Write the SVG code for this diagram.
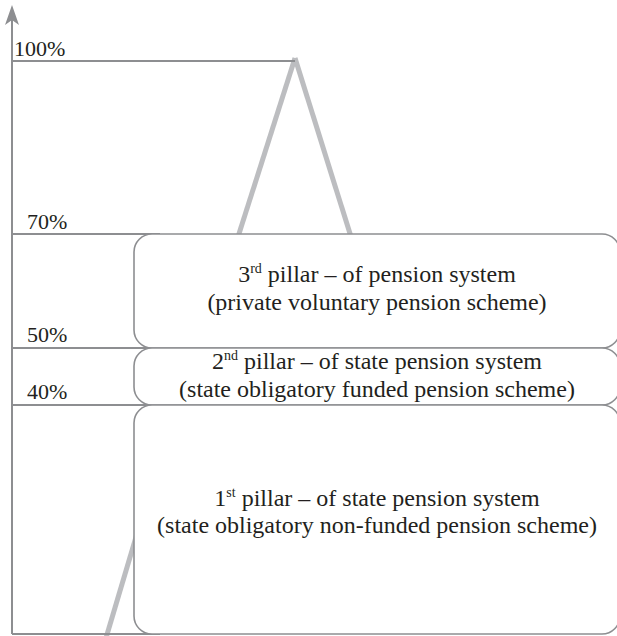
<svg xmlns="http://www.w3.org/2000/svg" width="617" height="636" viewBox="0 0 617 636">
<style>
.ax{stroke:#8d8e91;stroke-width:2;fill:none}
.tri{stroke:#bcbdc0;stroke-width:5;fill:none}
.box{fill:#ffffff;stroke:#8d8e91;stroke-width:1.6}
text{font-family:"Liberation Serif","Times New Roman","DejaVu Serif",serif;fill:#231f20}
.lbl{font-size:22px}
.txt{font-size:24px;text-anchor:middle}
.sup{font-size:14px}
</style>
<g id="connectors">
<line class="tri" x1="295" y1="58" x2="237" y2="240"/>
<line class="tri" x1="295" y1="58" x2="352" y2="240"/>
<line class="tri" x1="106" y1="638" x2="150" y2="490"/>
<line class="ax" x1="12" y1="634" x2="12" y2="18"/>
<polygon points="12,5 19,25 12,20 5,25" fill="#8d8e91"/>
<line class="ax" x1="12" y1="61" x2="295" y2="61"/>
<line class="ax" x1="12" y1="234" x2="160" y2="234"/>
<line class="ax" x1="12" y1="348" x2="153" y2="348"/>
<line class="ax" x1="12" y1="405" x2="153" y2="405"/>
<line class="ax" x1="12" y1="634" x2="160" y2="634"/>
</g>
<g id="labels">
<text class="lbl" x="14" y="56" font-family="Liberation Serif, serif">100%</text>
<text class="lbl" x="27" y="229" font-family="Liberation Serif, serif">70%</text>
<text class="lbl" x="27" y="342" font-family="Liberation Serif, serif">50%</text>
<text class="lbl" x="27" y="399" font-family="Liberation Serif, serif">40%</text>
</g>
<g id="pillar3">
<rect class="box" x="134" y="234" width="486" height="114" rx="18"/>
<text class="txt" x="377" y="282" font-family="Liberation Serif, serif">3<tspan class="sup" dy="-9">rd</tspan><tspan dy="9"> pillar – of pension system</tspan></text>
<text class="txt" x="377" y="310" font-family="Liberation Serif, serif">(private voluntary pension scheme)</text>
</g>
<g id="pillar2">
<rect class="box" x="134" y="348" width="486" height="57" rx="18"/>
<text class="txt" x="377" y="369" font-family="Liberation Serif, serif">2<tspan class="sup" dy="-9">nd</tspan><tspan dy="9"> pillar – of state pension system</tspan></text>
<text class="txt" x="377" y="397" font-family="Liberation Serif, serif">(state obligatory funded pension scheme)</text>
</g>
<g id="pillar1">
<rect class="box" x="134" y="405" width="486" height="229" rx="18"/>
<text class="txt" x="377" y="506" font-family="Liberation Serif, serif">1<tspan class="sup" dy="-9">st</tspan><tspan dy="9"> pillar – of state pension system</tspan></text>
<text class="txt" x="377" y="533" font-family="Liberation Serif, serif">(state obligatory non-funded pension scheme)</text>
</g>
</svg>
